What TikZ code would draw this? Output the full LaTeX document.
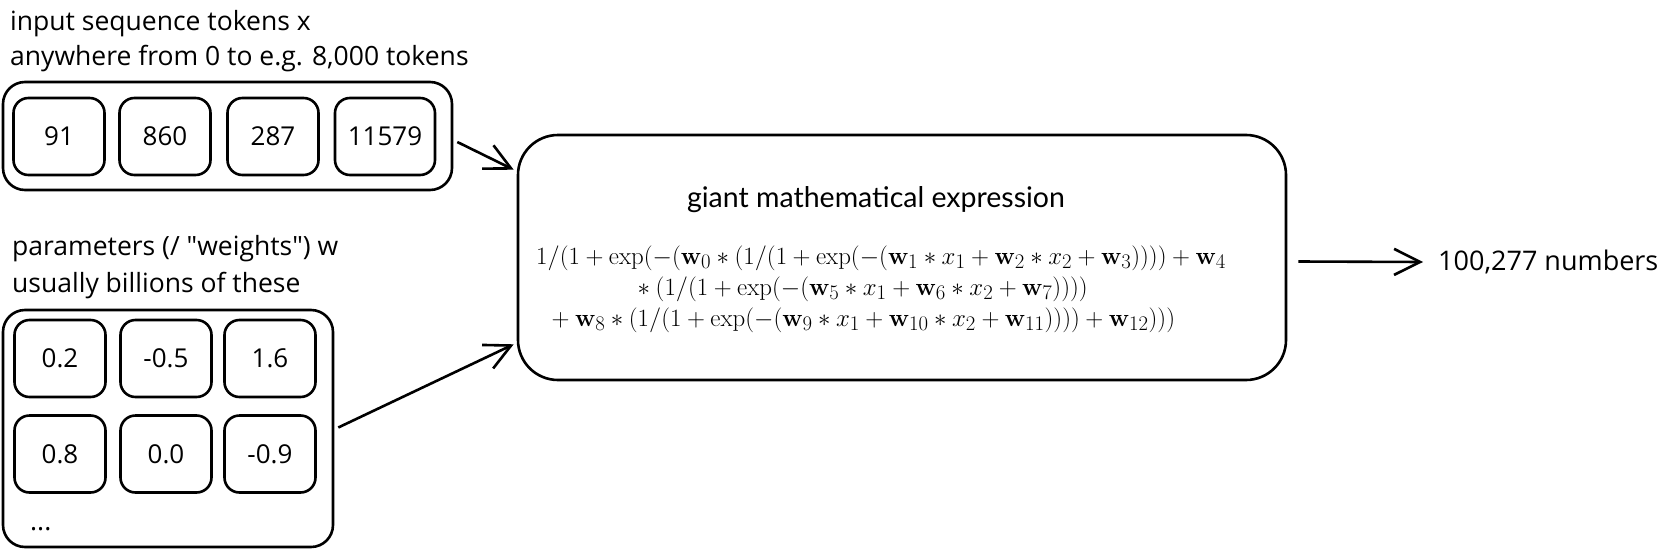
\documentclass[tikz,border=0pt]{standalone}
\usepackage[no-math]{fontspec}
\newfontfamily\labelfont{Open Sans}
\newfontfamily\titlefont{Lato}
\usetikzlibrary{arrows.meta}
\begin{document}
\begin{tikzpicture}[x=1pt,y=-1pt,
  lbl/.style={anchor=base west, inner sep=0pt, font=\labelfont\fontsize{26.5}{30}\selectfont},
  cell/.style={draw, line width=2.6pt, rounded corners=15pt, minimum width=91pt, minimum height=77pt, inner sep=0pt, font=\labelfont\fontsize{26}{30}\selectfont},
  holder/.style={draw, line width=2.6pt, rounded corners=22pt, inner sep=0pt},
  bigbox/.style={draw, line width=2.6pt, rounded corners=40pt, inner sep=0pt},
  eq/.style={anchor=base west, inner sep=0pt, text height=19pt, text depth=6pt, font=\fontsize{27.8}{30}\selectfont},
  arr/.style={line width=2.6pt, -{Straight Barb[length=26pt, width=26pt, line width=2.6pt]}}]
\useasboundingbox (0,0) rectangle (1672,554);

% input tokens
\node[lbl] (lx1) at (10,30) {input sequence tokens x};
\node[lbl] (lx2) at (10,65) {anywhere from 0 to e.g. 8,000 tokens};
\node[holder, minimum width=449pt, minimum height=108pt] (tokens) at (227.5,136) {};
\node[cell] (t1) at (59,136.5) {91};
\node[cell] (t2) at (165,136.5) {860};
\node[cell] (t3) at (273,136.5) {287};
\node[cell, minimum width=100pt] (t4) at (385,136.5) {11579};

% parameters
\node[lbl] (lw1) at (12,255) {parameters (/ "weights") w};
\node[lbl] (lw2) at (12,292) {usually billions of these};
\node[holder, minimum width=330pt, minimum height=237pt] (params) at (168,428.5) {};
\node[cell] (p1) at (60,358.5) {0.2};
\node[cell] (p2) at (166,358.5) {-0.5};
\node[cell] (p3) at (270,358.5) {1.6};
\node[cell] (p4) at (60,454) {0.8};
\node[cell] (p5) at (166,454) {0.0};
\node[cell] (p6) at (270,454) {-0.9};
\node[lbl] (dots) at (30,530) {...};

% main expression
\node[bigbox, minimum width=768pt, minimum height=245pt] (main) at (902,257.5) {};
\node[inner sep=0pt, font=\titlefont\fontsize{28.5}{32}\selectfont] (title) at (876,200) {giant mathematical expression};
\node[eq] (e1) at (536,264) {$1/(1+\exp(-(\mathbf{w}_0 * (1/(1+\exp(-(\mathbf{w}_1 * x_1 + \mathbf{w}_2 * x_2 + \mathbf{w}_3)))) + \mathbf{w}_4$};
\node[eq] (e2) at (632,295) {${}* (1/(1+\exp(-(\mathbf{w}_5 * x_1 + \mathbf{w}_6 * x_2 + \mathbf{w}_7))))$};
\node[eq] (e3) at (546,326) {${}+ \mathbf{w}_8 * (1/(1+\exp(-(\mathbf{w}_9 * x_1 + \mathbf{w}_{10} * x_2 + \mathbf{w}_{11})))) + \mathbf{w}_{12})))$};

% output
\node[anchor=west, inner sep=0pt, font=\labelfont\fontsize{27}{30}\selectfont] (out) at (1438,262) {100,277 numbers};

% connectors
\draw[arr] ([shift={(4,6)}]tokens.east) -- ([shift={(-3,36)}]main.north west);
\draw[arr] ([shift={(4,-1)}]params.east) -- ([shift={(-3,-37)}]main.south west);
\draw[arr] ([shift={(11,4)}]main.east) -- ([xshift=-15pt]out.west);
\end{tikzpicture}
\end{document}
